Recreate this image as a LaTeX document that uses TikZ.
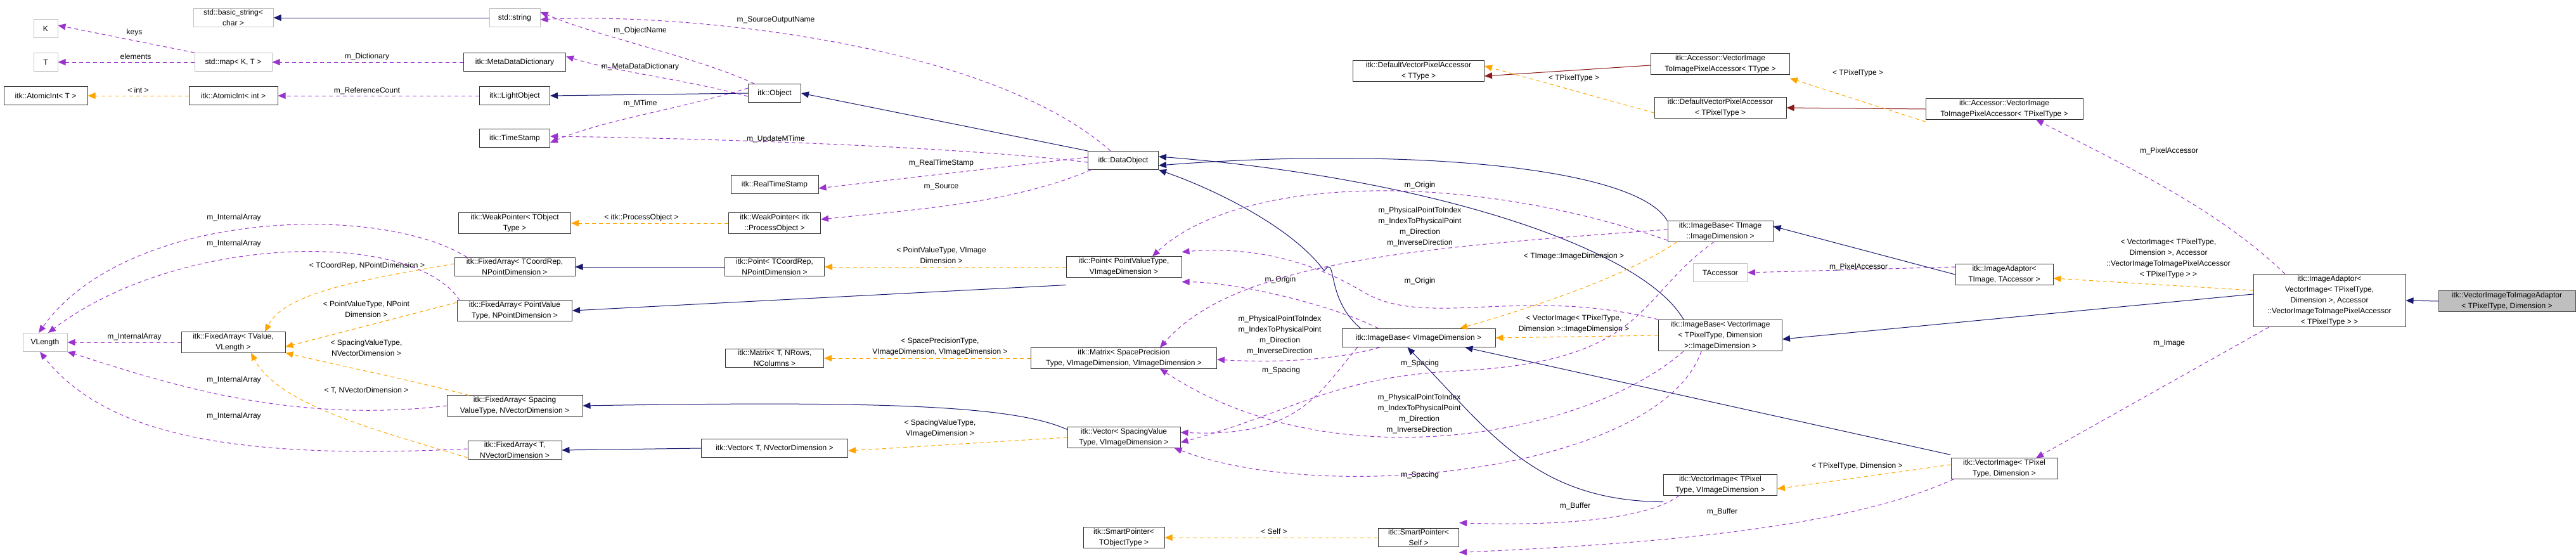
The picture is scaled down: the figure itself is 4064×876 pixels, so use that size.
\documentclass[tikz,border=0pt]{standalone}
\usepackage{fontspec}
\setmainfont{Liberation Sans}
\usetikzlibrary{arrows.meta}
\definecolor{navy}{HTML}{191970}
\definecolor{purp}{HTML}{9A32CD}
\definecolor{orng}{HTML}{FFA500}
\definecolor{dred}{HTML}{8B1A1A}
\definecolor{gbord}{HTML}{BFBFBF}
\begin{document}
\begin{tikzpicture}[x=1pt,y=-1pt,
  box/.style={draw=black!80,line width=1pt,fill=white,align=center,inner sep=2pt,minimum height=29pt,font=\fontsize{12}{17}\selectfont},
  gbox/.style={box,draw=gbord},
  lbl/.style={align=center,inner sep=0pt,font=\fontsize{12}{17}\selectfont},
  tip/.style={-{Triangle[length=12pt,width=10pt]}},
  inh/.style={tip,draw=navy,line width=1pt},
  red/.style={tip,draw=dred,fill=dred,line width=1pt},
  tpl/.style={tip,draw=orng,line width=1pt,dash pattern=on 6pt off 5pt},
  use/.style={tip,draw=purp,line width=1pt,dash pattern=on 6pt off 5pt}]
\useasboundingbox (0,0) rectangle (4064,876);
% nodes
\node[gbox,minimum width=126pt] (bstr) at (368,28) {std::basic\_string<\\char >};
\node[gbox,minimum width=80pt] (str) at (812,28) {std::string};
\node[gbox,minimum width=38pt] (K) at (72,45) {K};
\node[gbox,minimum width=38pt] (T) at (72,98) {T};
\node[gbox,minimum width=122pt] (map) at (368,98) {std::map< K, T >};
\node[box,minimum width=161pt] (mdd) at (812,98) {itk::MetaDataDictionary};
\node[box,minimum width=132pt] (aiT) at (72,151) {itk::AtomicInt< T >};
\node[box,minimum width=140pt] (aiI) at (368,151) {itk::AtomicInt< int >};
\node[box,minimum width=111pt] (light) at (812,151) {itk::LightObject};
\node[box,minimum width=111pt] (ts) at (812,218) {itk::TimeStamp};
\node[box,minimum width=177pt] (wpT) at (812,352) {itk::WeakPointer< TObject\\Type >};
\node[box,minimum width=190pt] (faC) at (812,421) {itk::FixedArray< TCoordRep,\\NPointDimension >};
\node[box,minimum width=181pt] (faP) at (812,490) {itk::FixedArray< PointValue\\Type, NPointDimension >};
\node[gbox,minimum width=70pt] (vl) at (71,540) {VLength};
\node[box,minimum width=164pt] (faV) at (368,540) {itk::FixedArray< TValue,\\VLength >};
\node[box,minimum width=214pt] (faS) at (812,640) {itk::FixedArray< Spacing\\ValueType, NVectorDimension >};
\node[box,minimum width=148pt] (faT) at (812,710) {itk::FixedArray< T,\\NVectorDimension >};
\node[box,minimum width=83pt] (obj) at (1222,147) {itk::Object};
\node[box,minimum width=111pt] (dobj) at (1772,253) {itk::DataObject};
\node[box,minimum width=138pt] (rts) at (1222,291) {itk::RealTimeStamp};
\node[box,minimum width=145pt] (wpP) at (1222,352) {itk::WeakPointer< itk\\::ProcessObject >};
\node[box,minimum width=157pt] (ptC) at (1222,421) {itk::Point< TCoordRep,\\NPointDimension >};
\node[box,minimum width=182pt] (ptP) at (1773,421) {itk::Point< PointValueType,\\VImageDimension >};
\node[box,minimum width=155pt] (mxT) at (1222,565) {itk::Matrix< T, NRows,\\NColumns >};
\node[box,minimum width=293pt] (mxS) at (1773,565) {itk::Matrix< SpacePrecision\\Type, VImageDimension, VImageDimension >};
\node[box,minimum width=231pt] (vcT) at (1222,707) {itk::Vector< T, NVectorDimension >};
\node[box,minimum width=178pt] (vcS) at (1773,690) {itk::Vector< SpacingValue\\Type, VImageDimension >};
\node[box,minimum width=128pt] (spT) at (1773,848) {itk::SmartPointer<\\TObjectType >};
\node[box,minimum width=207pt] (dvT) at (2238,112) {itk::DefaultVectorPixelAccessor\\< TType >};
\node[box,minimum width=219pt] (acT) at (2714,101) {itk::Accessor::VectorImage\\ToImagePixelAccessor< TType >};
\node[box,minimum width=208pt] (dvP) at (2714,170) {itk::DefaultVectorPixelAccessor\\< TPixelType >};
\node[box,minimum width=166pt] (ibT) at (2714,365) {itk::ImageBase< TImage\\::ImageDimension >};
\node[gbox,minimum width=85pt] (tacc) at (2714,430) {TAccessor};
\node[box,minimum width=242pt] (ibV) at (2238,533) {itk::ImageBase< VImageDimension >};
\node[box,minimum width=195pt] (ibI) at (2714,529) {itk::ImageBase< VectorImage\\< TPixelType, Dimension\\ >::ImageDimension >};
\node[box,minimum width=179pt] (viV) at (2714,765) {itk::VectorImage< TPixel\\Type, VImageDimension >};
\node[box,minimum width=127pt] (spS) at (2238,848) {itk::SmartPointer<\\Self >};
\node[box,minimum width=248pt] (acP) at (3162,172) {itk::Accessor::VectorImage\\ToImagePixelAccessor< TPixelType >};
\node[box,minimum width=154pt] (iaT) at (3162,433) {itk::ImageAdaptor<\\TImage, TAccessor >};
\node[box,minimum width=240pt] (iaV) at (3675,474) {itk::ImageAdaptor<\\VectorImage< TPixelType,\\Dimension >, Accessor\\::VectorImageToImagePixelAccessor\\< TPixelType > >};
\node[box,minimum width=216pt,fill=gbord,draw=black!70] (main) at (3955,475) {itk::VectorImageToImageAdaptor\\< TPixelType, Dimension >};
\node[box,minimum width=168pt] (viD) at (3162,739) {itk::VectorImage< TPixel\\Type, Dimension >};
% inheritance
\draw[inh] (str.west) -- (bstr.east);
\draw[inh] (obj.west) -- (light.east);
\draw[inh] (dobj.north west) -- (obj.east);
\draw[inh] (ibT.north west) .. controls (2580,260) and (2200,232) .. ([yshift=-8pt]dobj.east);
\draw[inh] ([xshift=40pt]ibI.north west) .. controls (2590,390) and (2250,280) .. ([yshift=6pt]dobj.east);
\draw[inh] ([xshift=30pt]ibV.north west) .. controls (2090,470) and (2110,400) .. (2089,427) .. controls (2040,360) and (1920,300) .. (dobj.south east);
\draw[inh] (ptC.west) -- (faC.east);
\draw[inh] ([yshift=-12pt]ptP.south west) -- (faP.east);
\draw[inh] ([yshift=-4pt]vcS.north west) .. controls (1600,640) and (1400,632) .. (faS.east);
\draw[inh] (vcT.west) -- (faT.east);
\draw[inh] ([yshift=-10pt]viV.south west) .. controls (2420,790) and (2350,680) .. ([xshift=104pt]ibV.south west);
\draw[inh] ([yshift=5pt]viD.north west) -- ([xshift=-48pt]ibV.south east);
\draw[inh] (iaT.west) -- ([yshift=8pt]ibT.east);
\draw[inh] ([yshift=10pt]iaV.west) -- ([yshift=-6pt]ibI.east);
\draw[inh] (main.west) -- (iaV.east);
\draw[red] ([yshift=-2pt]acT.west) -- ([yshift=-8pt]dvT.east);
\draw[red] (acP.west) -- (dvP.east);
% templates
\draw[tpl] (aiI.west) -- (aiT.east) node[lbl,pos=0.5,above=4pt] (t1) {< int >};
\draw[tpl] (wpP.west) -- (wpT.east);
\node[lbl] (t2) at (1012,343) {< itk::ProcessObject >};
\draw[tpl] ([yshift=5pt]faC.west) .. controls (580,440) and (450,460) .. ([xshift=50pt]faV.north);
\node[lbl] (t3) at (579,419) {< TCoordRep, NPointDimension >};
\draw[tpl] ([yshift=13pt]faP.west) -- ([yshift=-7pt]faV.east);
\node[lbl] (t4) at (578,488) {< PointValueType, NPoint\\Dimension >};
\draw[tpl] ([xshift=35pt]faS.north west) .. controls (650,600) and (550,580) .. (faV.south east);
\node[lbl] (t5) at (578,549) {< SpacingValueType,\\NVectorDimension >};
\draw[tpl] ([yshift=-12pt]faT.west) .. controls (600,680) and (440,640) .. ([xshift=28pt]faV.south);
\node[lbl] (t6) at (578,616) {< T, NVectorDimension >};
\draw[tpl] (ptP.west) -- (ptC.east);
\node[lbl] (t7) at (1485,403) {< PointValueType, VImage\\Dimension >};
\draw[tpl] (mxS.west) -- (mxT.east);
\node[lbl] (t8) at (1483,547) {< SpacePrecisionType,\\VImageDimension, VImageDimension >};
\draw[tpl] (vcS.west) -- ([yshift=-4pt]vcT.east);
\node[lbl] (t9) at (1483,676) {< SpacingValueType,\\VImageDimension >};
\draw[tpl] (spS.west) -- (spT.east);
\node[lbl] (t10) at (2010,838) {< Self >};
\draw[tpl] ([yshift=-8pt]dvP.west) -- ([yshift=8pt]dvT.east);
\node[lbl] (t11) at (2483,123) {< TPixelType >};
\draw[tpl] ([yshift=-20pt]acP.west) -- ([yshift=-6pt]acT.south east);
\node[lbl] (t12) at (2931,115) {< TPixelType >};
\draw[tpl] ([xshift=15pt]ibT.south west) .. controls (2560,440) and (2400,490) .. ([xshift=65pt]ibV.north);
\node[lbl] (t13) at (2483,404) {< TImage::ImageDimension >};
\draw[tpl] (ibI.west) -- (ibV.east);
\node[lbl] (t14) at (2483,511) {< VectorImage< TPixelType,\\Dimension >::ImageDimension >};
\draw[tpl] ([yshift=6pt]viD.west) -- ([yshift=-6pt]viV.east);
\node[lbl] (t15) at (2930,735) {< TPixelType, Dimension >};
\draw[tpl] ([yshift=16pt]iaV.west) -- ([yshift=-6pt]iaT.east);
\node[lbl] (t16) at (3421,408) {< VectorImage< TPixelType,\\Dimension >, Accessor\\::VectorImageToImagePixelAccessor\\< TPixelType > >};
% usage
\draw[use] (map.north west) -- ([yshift=5pt]K.east);
\node[lbl] (u1) at (212,51) {keys};
\draw[use] (map.west) -- (T.east);
\node[lbl] (u2) at (214,89) {elements};
\draw[use] (mdd.west) -- (map.east);
\node[lbl] (u3) at (579,89) {m\_Dictionary};
\draw[use] (light.west) -- (aiI.east);
\node[lbl] (u4) at (579,143) {m\_ReferenceCount};
\draw[use] ([xshift=10pt]obj.north west) .. controls (1100,90) and (950,60) .. ([yshift=9pt]str.east);
\node[lbl] (u5) at (1010,48) {m\_ObjectName};
\draw[use] ([xshift=-20pt]dobj.north) .. controls (1550,60) and (1050,20) .. ([yshift=-3pt]str.east);
\node[lbl] (u6) at (1224,32) {m\_SourceOutputName};
\draw[use] ([yshift=-5pt]obj.west) .. controls (1080,125) and (980,115) .. ([yshift=9pt]mdd.east);
\node[lbl] (u7) at (1010,105) {m\_MetaDataDictionary};
\draw[use] ([yshift=8pt]obj.west) .. controls (1080,170) and (950,190) .. ([yshift=-7pt]ts.east);
\node[lbl] (u8) at (1010,163) {m\_MTime};
\draw[use] ([yshift=-3pt]dobj.west) .. controls (1500,230) and (1100,218) .. ([yshift=3pt]ts.east);
\node[lbl] (u9) at (1224,219) {m\_UpdateMTime};
\draw[use] ([yshift=5pt]dobj.west) -- ([yshift=-6pt]rts.east);
\node[lbl] (u10) at (1485,257) {m\_RealTimeStamp};
\draw[use] ([xshift=5pt]dobj.south west) .. controls (1600,320) and (1450,330) .. ([yshift=6pt]wpP.east);
\node[lbl] (u11) at (1485,294) {m\_Source};
\draw[use] ([xshift=20pt]faC.north west) .. controls (600,320) and (200,330) .. ([xshift=-10pt]vl.north);
\node[lbl] (u12) at (369,343) {m\_InternalArray};
\draw[use] ([xshift=4pt]faP.north west) .. controls (650,360) and (280,370) .. ([xshift=5pt]vl.north);
\node[lbl] (u13) at (369,384) {m\_InternalArray};
\draw[use] (faV.west) -- (vl.east);
\node[lbl] (u14) at (212,531) {m\_InternalArray};
\draw[use] (faS.west) .. controls (450,670) and (250,600) .. (vl.south east);
\node[lbl] (u15) at (369,599) {m\_InternalArray};
\draw[use] ([yshift=2pt]faT.west) .. controls (380,725) and (170,690) .. ([xshift=-8pt]vl.south);
\node[lbl] (u16) at (369,656) {m\_InternalArray};
% m_Origin
\draw[use] ([yshift=-14pt]ibT.west) .. controls (2300,265) and (1950,280) .. ([xshift=45pt]ptP.north);
\node[lbl] (u17) at (2240,292) {m\_Origin};
\draw[use] ([xshift=58pt]ibV.north west) .. controls (2100,480) and (1950,445) .. ([yshift=-7pt]ptP.south east);
\node[lbl] (u18) at (2020,441) {m\_Origin};
\draw[use] (ibI.north west) .. controls (2400,450) and (2250,520) .. (2150,460) .. controls (2050,400) and (1950,390) .. ([yshift=7pt]ptP.north east);
\node[lbl] (u19) at (2240,443) {m\_Origin};
% matrix
\draw[use] ([yshift=3pt]ibT.west) .. controls (2250,390) and (1950,410) .. ([xshift=57pt]mxS.north);
\node[lbl] (u20) at (2240,358) {m\_PhysicalPointToIndex\\m\_IndexToPhysicalPoint\\m\_Direction\\m\_InverseDirection};
\draw[use] ([xshift=60pt]ibV.south west) .. controls (2100,570) and (2000,572) .. ([yshift=-2pt]mxS.east);
\node[lbl] (u21) at (2019,529) {m\_PhysicalPointToIndex\\m\_IndexToPhysicalPoint\\m\_Direction\\m\_InverseDirection};
\draw[use] ([xshift=40pt]ibI.south west) .. controls (2500,690) and (2100,760) .. ([xshift=57pt]mxS.south);
\node[lbl] (u22) at (2239,653) {m\_PhysicalPointToIndex\\m\_IndexToPhysicalPoint\\m\_Direction\\m\_InverseDirection};
% spacing
\draw[use] ([xshift=-10pt]ibT.south) .. controls (2580,470) and (2600,570) .. (2300,585) .. controls (2100,595) and (2040,650) .. ([yshift=-8pt]vcS.east);
\node[lbl] (u23) at (2240,573) {m\_Spacing};
\draw[use] ([xshift=25pt]ibV.south west) .. controls (2080,620) and (2050,690) .. ([yshift=8pt]vcS.east);
\node[lbl] (u24) at (2021,584) {m\_Spacing};
\draw[use] ([xshift=-30pt]ibI.south) .. controls (2620,740) and (2100,800) .. ([xshift=-10pt]vcS.south east);
\node[lbl] (u25) at (2240,749) {m\_Spacing};
\draw[use] ([yshift=12pt]iaT.west) -- (tacc.east);
\node[lbl] (u26) at (2932,421) {m\_PixelAccessor};
\draw[use] ([xshift=50pt]iaV.north west) .. controls (3500,330) and (3350,260) .. ([xshift=50pt]acP.south);
\node[lbl] (u27) at (3422,238) {m\_PixelAccessor};
\draw[use] ([xshift=25pt]iaV.south west) -- ([xshift=50pt]viD.north);
\node[lbl] (u28) at (3422,542) {m\_Image};
\draw[use] ([xshift=25pt]viV.south west) .. controls (2600,820) and (2450,830) .. ([yshift=8pt]spS.north east);
\node[lbl] (u29) at (2485,798) {m\_Buffer};
\draw[use] ([xshift=5pt]viD.south west) .. controls (2900,840) and (2550,860) .. ([yshift=-8pt]spS.south east);
\node[lbl] (u30) at (2717,807) {m\_Buffer};
\end{tikzpicture}
\end{document}
